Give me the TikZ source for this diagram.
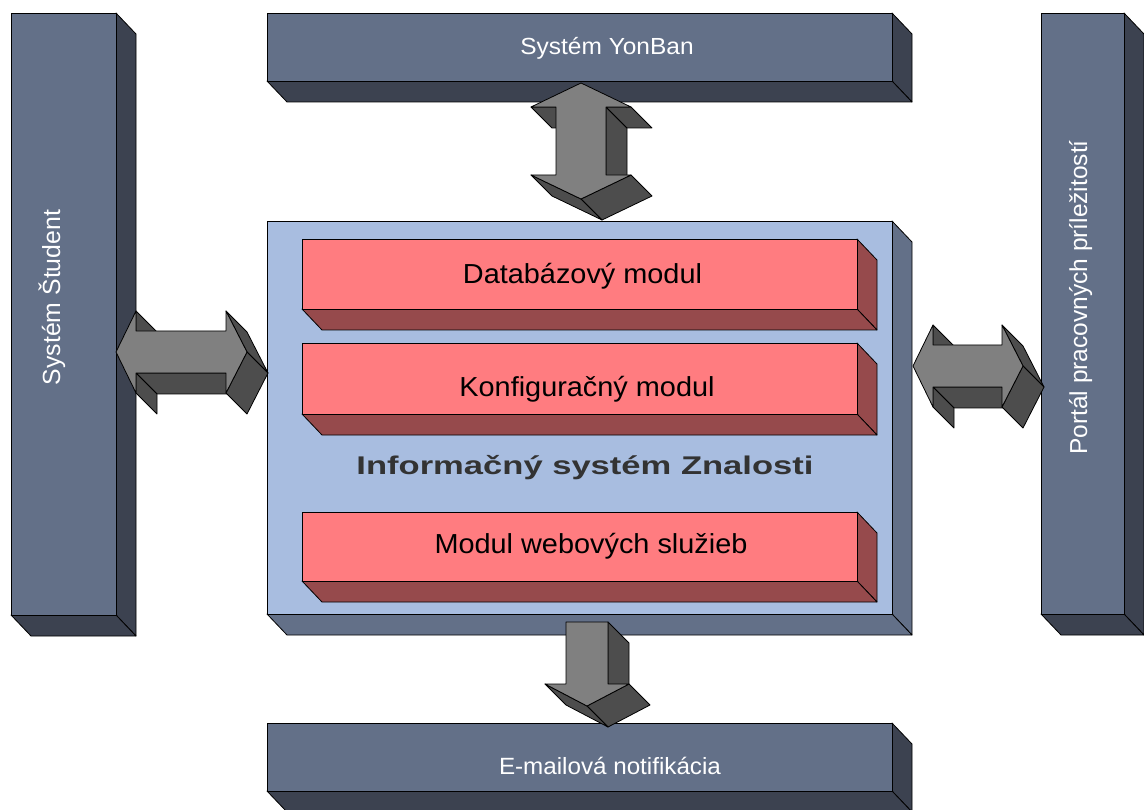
\documentclass[tikz,border=0pt]{standalone}
\usepackage{fontspec}
\setmainfont{Liberation Sans}

\definecolor{slate}{RGB}{99,112,136}
\definecolor{slatedark}{RGB}{60,66,80}
\definecolor{paneblue}{RGB}{168,189,224}
\definecolor{modred}{RGB}{255,124,128}
\definecolor{modreddark}{RGB}{150,74,76}
\definecolor{arrowface}{RGB}{128,128,128}
\definecolor{arrowshade}{RGB}{77,77,77}
\definecolor{titlegray}{RGB}{51,51,51}

% extruded block: \slab{x1}{y1}{x2}{y2}{front colour}{side colour}
\newcommand\slab[6]{%
  \filldraw[edge, fill=#6] (#3,#2) -- (#3+20,#2+21) -- (#3+20,#4+21) -- (#3,#4) -- cycle;
  \filldraw[edge, fill=#6] (#1,#4) -- (#3,#4) -- (#3+20,#4+21) -- (#1+20,#4+21) -- cycle;
  \filldraw[edge, fill=#5] (#1,#2) rectangle (#3,#4);
}

\begin{document}
\begin{tikzpicture}[x=1pt, y=-1pt,
  edge/.style={draw=black, line width=0.8pt, line join=round},
  aface/.style={edge, fill=arrowface},
  aside/.style={edge, fill=arrowshade},
  outer/.style={text=white, inner sep=0pt, anchor=base},
  modtext/.style={text=black, inner sep=0pt, anchor=base, font=\fontsize{27.5}{30}\selectfont}]

\fill[white] (0,0) rectangle (1144,810);
\useasboundingbox (0,0) rectangle (1144,810);

% outer systems
\slab{11}{13}{116}{615}{slate}{slatedark}
\slab{267}{13}{892}{81}{slate}{slatedark}
\slab{1041}{13}{1124}{614}{slate}{slatedark}
\slab{267}{723}{892}{791}{slate}{slatedark}

% central system and its modules
\slab{267}{221}{892}{614}{paneblue}{slate}
\slab{302}{239}{857}{309}{modred}{modreddark}
\slab{302}{343}{857}{414}{modred}{modreddark}
\slab{302}{512}{857}{581}{modred}{modreddark}

% labels
\node[outer, font=\fontsize{23.3}{28}\selectfont] (yonban) at (607,54.7) {\scalebox{1.05}[1]{Systém YonBan}};
\node[outer, font=\fontsize{23.5}{28}\selectfont] (email) at (610,774) {\scalebox{1.03}[1]{E-mailová notifikácia}};
\node[outer, rotate=90, font=\fontsize{24.8}{28}\selectfont] (student) at (60,297.5) {Systém Študent};
\node[outer, rotate=90, font=\fontsize{24.5}{28}\selectfont] (portal) at (1087,297.5) {Portál pracovných príležitostí};
\node[text=titlegray, inner sep=0pt, anchor=base, font=\fontsize{25.6}{30}\selectfont\bfseries] (title) at (585,475) {\scalebox{1.35}[1]{Informačný systém Znalosti}};
\node[modtext] (db) at (582.5,284) {\scalebox{1.05}[1]{Databázový modul}};
\node[modtext] (konf) at (587,396.5) {\scalebox{1.05}[1]{Konfiguračný modul}};
\node[modtext] (web) at (591,553.3) {\scalebox{1.05}[1]{Modul webových služieb}};

% YonBan <-> central system
\filldraw[aside] (606,107) -- (606,175) -- (627,196) -- (627,128) -- cycle;
\filldraw[aside] (631,107) -- (606,107) -- (627,128) -- (652,128) -- cycle;
\filldraw[aside] (556,107) -- (531,107) -- (552,128) -- (577,128) -- cycle;
\filldraw[aside] (631,175) -- (581,199) -- (602,220) -- (652,196) -- cycle;
\filldraw[aside] (581,199) -- (531,175) -- (552,196) -- (602,220) -- cycle;
\filldraw[aface] (581,83) -- (631,107) -- (606,107) -- (606,175) -- (631,175) -- (581,199)
  -- (531,175) -- (556,175) -- (556,107) -- (531,107) -- cycle;

% Student <-> central system
\filldraw[aside] (226,373) -- (136,373) -- (157,394) -- (247,394) -- cycle;
\filldraw[aside] (136,311) -- (136,331) -- (157,352) -- (157,332) -- cycle;
\filldraw[aside] (136,373) -- (136,393) -- (157,414) -- (157,394) -- cycle;
\filldraw[aside] (226,311) -- (247,352) -- (268,373) -- (247,332) -- cycle;
\filldraw[aside] (247,352) -- (226,393) -- (247,414) -- (268,373) -- cycle;
\filldraw[aface] (116,352) -- (136,311) -- (136,331) -- (226,331) -- (226,311) -- (247,352)
  -- (226,393) -- (226,373) -- (136,373) -- (136,393) -- cycle;

% central system <-> job portal
\filldraw[aside] (1002,387) -- (933,387) -- (954,408) -- (1023,408) -- cycle;
\filldraw[aside] (933,325) -- (933,345) -- (954,366) -- (954,346) -- cycle;
\filldraw[aside] (933,387) -- (933,407) -- (954,428) -- (954,408) -- cycle;
\filldraw[aside] (1002,325) -- (1023,366) -- (1044,387) -- (1023,346) -- cycle;
\filldraw[aside] (1023,366) -- (1002,407) -- (1023,428) -- (1044,387) -- cycle;
\filldraw[aface] (913,366) -- (933,325) -- (933,345) -- (1002,345) -- (1002,325) -- (1023,366)
  -- (1002,407) -- (1002,387) -- (933,387) -- (933,407) -- cycle;

% central system -> e-mail notification
\filldraw[aside] (608,622) -- (608,684) -- (629,705) -- (629,643) -- cycle;
\filldraw[aside] (629,684) -- (587,706) -- (608,727) -- (650,705) -- cycle;
\filldraw[aside] (587,706) -- (545,684) -- (566,705) -- (608,727) -- cycle;
\filldraw[aface] (566,622) -- (608,622) -- (608,684) -- (629,684) -- (587,706) -- (545,684)
  -- (566,684) -- cycle;

\end{tikzpicture}
\end{document}
